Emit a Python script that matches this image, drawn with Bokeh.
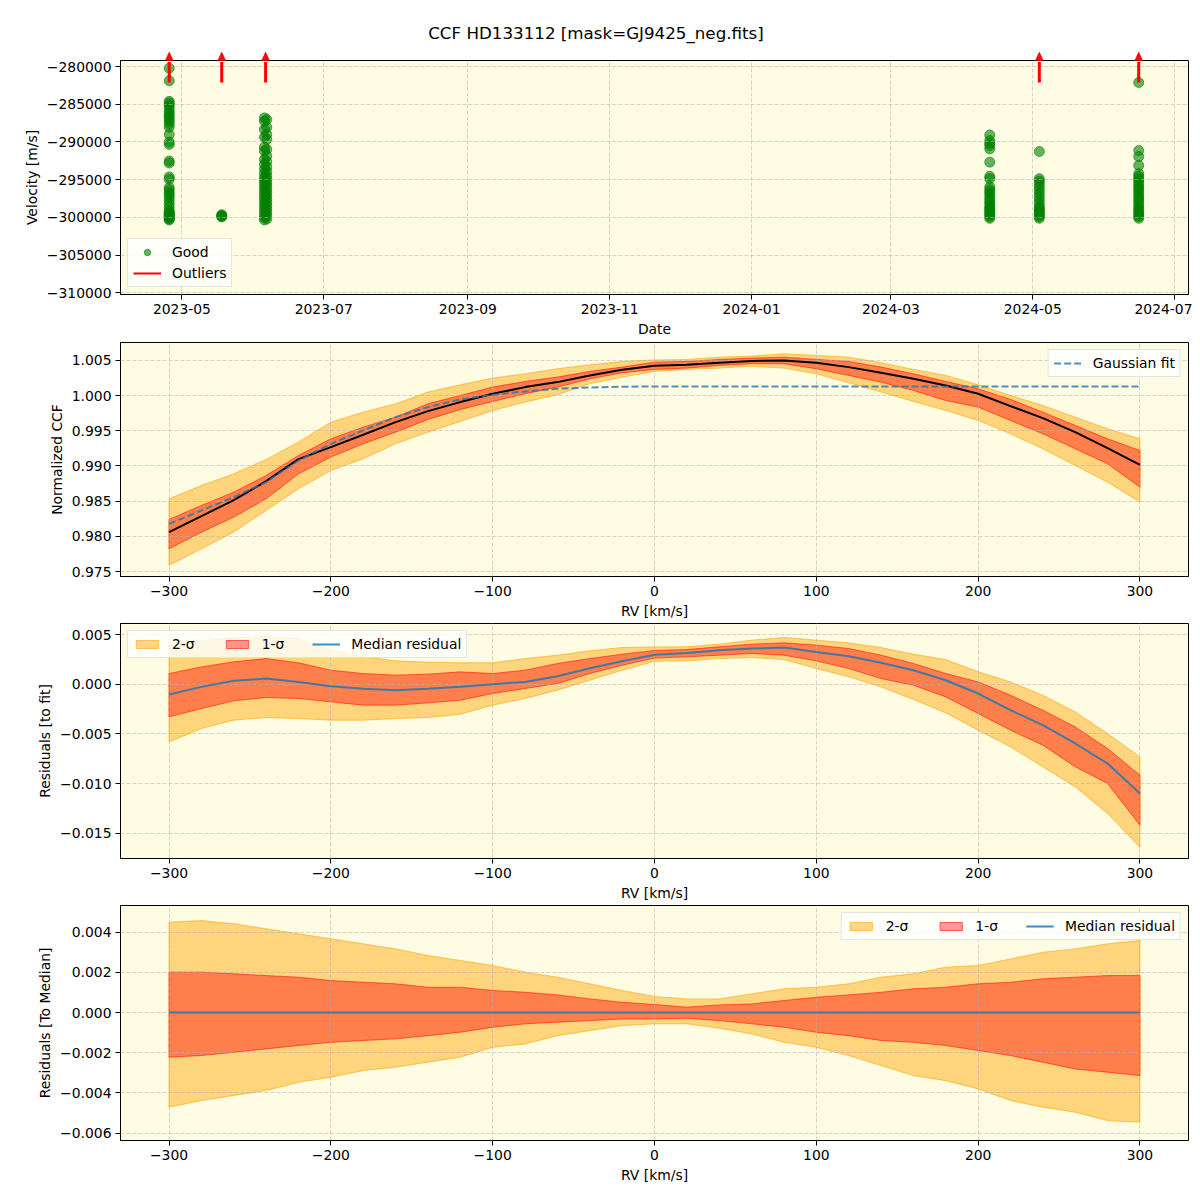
import numpy as np
import pandas as pd
from bokeh.plotting import figure
from bokeh.models import (ColumnDataSource, Range1d, FixedTicker, Legend, LegendItem,
                          Arrow, NormalHead, Div)
from bokeh.layouts import column
from bokeh.embed import file_html
from bokeh.resources import INLINE

FONT = "DejaVu Sans"
BG = "#fefce3"
FS = "13.9px"

# ---------------- data: top panel (velocities per observing night) ----------------
c1_date = "2023-04-25 13:00"
c1_vel = [-280220, -281890, -284620, -284840, -285140, -285490, -285930, -286290, -286590,
          -286900, -287250, -287600, -288040, -289010, -290020, -290330, -292530, -292790,
          -294640, -294950, -296040, -296350, -296700, -297010, -297360, -297800, -298240,
          -298680, -299120, -299340, -299470, -299560, -299650, -299780, -299910, -300000,
          -300090, -300220, -300350]
c2_date = "2023-05-18 03:00"
c2_vel = [-299650, -299750, -299850, -299950]
c3_date_a = "2023-06-05 12:00"
c3_date_b = "2023-06-06 12:00"
c3_vel = [-286810, -287030, -287250, -288040, -288350, -289010, -289360, -289670, -290680,
          -290990, -291210, -291870, -292310, -292620, -292970, -293320, -293630, -293930,
          -294200, -294510, -294730, -294950, -295160, -295380, -295600, -295820, -296040,
          -296260, -296480, -296700, -296920, -297140, -297360, -297580, -297800, -298020,
          -298240, -298460, -298680, -298900, -299120, -299340, -299560, -299780, -300000,
          -300220, -300350]
c4_date = "2024-04-12 12:00"
c4_vel = [-289080, -289820, -290180, -290480, -290920, -292680, -294560, -294870, -295960,
          -296320, -296620, -296930, -297280, -297630, -297940, -298250, -298600, -298820,
          -299040, -299250, -299470, -299690, -299910, -300130]
c5_date = "2024-05-03 20:00"
c5_vel = [-291270, -294870, -295180, -295530, -295960, -296400, -296840, -297280, -297720,
          -298160, -298600, -298820, -299040, -299250, -299470, -299690, -299910, -300130]
c6_date = "2024-06-15 14:00"
c6_vel = [-282110, -291140, -291930, -293110, -294210, -294560, -294870, -295180, -295530,
          -295880, -296180, -296490, -296840, -297190, -297500, -297810, -298160, -298510,
          -298820, -299120, -299390, -299650, -299910, -300130]
outlier_dates = ["2023-04-25 13:00", "2023-05-18 03:00", "2023-06-06 00:00",
                 "2024-05-03 20:00", "2024-06-15 14:00"]

date_ticks = ["2023-05-01", "2023-07-01", "2023-09-01", "2023-11-01", "2024-01-01",
              "2024-03-01", "2024-05-01", "2024-07-01"]
date_tick_labels = ["2023-05", "2023-07", "2023-09", "2023-11", "2024-01", "2024-03",
                    "2024-05", "2024-07"]
vel_ticks = [-280000, -285000, -290000, -295000, -300000, -305000, -310000]
vel_tick_labels = ["\u2212280000", "\u2212285000", "\u2212290000", "\u2212295000",
                   "\u2212300000", "\u2212305000", "\u2212310000"]

# ---------------- data: CCF panels ----------------
rv = [-300, -280, -260, -240, -220, -200, -180, -160, -140, -120, -100, -80, -60, -40, -20,
      0, 20, 40, 60, 80, 100, 120, 140, 160, 180, 200, 220, 240, 260, 280, 300]

ccf_median = [0.98059, 0.98287, 0.98514, 0.98784, 0.99097, 0.99268, 0.99443, 0.99623, 0.99780,
              0.99908, 1.00026, 1.00121, 1.00192, 1.00287, 1.00367, 1.00424, 1.00438, 1.00467,
              1.00491, 1.00500, 1.00467, 1.00405, 1.00325, 1.00239, 1.00145, 1.00026, 0.99851,
              0.99680, 0.99481, 0.99254, 0.99017]
ccf_2s_up = [0.98533, 0.98723, 0.98889, 0.99093, 0.99339, 0.99623, 0.99765, 0.99884, 1.00050,
             1.00154, 1.00249, 1.00310, 1.00382, 1.00438, 1.00486, 1.00507, 1.00514, 1.00547,
             1.00562, 1.00595, 1.00571, 1.00547, 1.00467, 1.00372, 1.00287, 1.00154, 1.00002,
             0.99860, 0.99694, 0.99529, 0.99386]
ccf_1s_up = [0.98240, 0.98439, 0.98628, 0.98865, 0.99149, 0.99386, 0.99552, 0.99694, 0.99884,
             1.00002, 1.00121, 1.00201, 1.00263, 1.00344, 1.00405, 1.00476, 1.00486, 1.00514,
             1.00533, 1.00547, 1.00514, 1.00486, 1.00405, 1.00310, 1.00201, 1.00097, 0.99946,
             0.99765, 0.99576, 0.99386, 0.99220]
ccf_1s_lo = [0.97822, 0.98059, 0.98273, 0.98533, 0.98889, 0.99126, 0.99315, 0.99481, 0.99661,
             0.99803, 0.99917, 1.00026, 1.00121, 1.00239, 1.00325, 1.00372, 1.00391, 1.00429,
             1.00453, 1.00453, 1.00382, 1.00287, 1.00192, 1.00073, 0.99931, 0.99837, 0.99647,
             0.99457, 0.99244, 0.99031, 0.98699]
ccf_2s_lo = [0.97586, 0.97822, 0.98059, 0.98367, 0.98675, 0.98936, 0.99102, 0.99315, 0.99481,
             0.99633, 0.99789, 0.99908, 1.00012, 1.00168, 1.00263, 1.00344, 1.00372, 1.00391,
             1.00419, 1.00391, 1.00310, 1.00182, 1.00050, 0.99917, 0.99789, 0.99647, 0.99457,
             0.99244, 0.99007, 0.98770, 0.98486]
gauss_fit = [0.98178, 0.98367, 0.98557, 0.98770, 0.99078, 0.99315, 0.99505, 0.99694, 0.99837,
             0.99946, 1.00012, 1.00059, 1.00097, 1.00116, 1.00126, 1.00130, 1.00130, 1.00130,
             1.00130, 1.00130, 1.00130, 1.00130, 1.00130, 1.00130, 1.00130, 1.00130, 1.00130,
             1.00130, 1.00130, 1.00130, 1.00130]

res_median = [-0.00104, -0.00027, 0.00034, 0.00057, 0.00023, -0.00020, -0.00047, -0.00060,
              -0.00047, -0.00027, 0.00000, 0.00023, 0.00080, 0.00160, 0.00230, 0.00297,
              0.00315, 0.00342, 0.00359, 0.00369, 0.00325, 0.00282, 0.00215, 0.00141, 0.00040,
              -0.00094, -0.00262, -0.00413, -0.00597, -0.00799, -0.01101]
res_2s_up = [0.00389, 0.00436, 0.00470, 0.00483, 0.00460, 0.00342, 0.00275, 0.00235, 0.00221,
             0.00215, 0.00215, 0.00258, 0.00292, 0.00336, 0.00369, 0.00375, 0.00376, 0.00403,
             0.00443, 0.00470, 0.00443, 0.00416, 0.00369, 0.00302, 0.00248, 0.00124, 0.00023,
             -0.00111, -0.00279, -0.00497, -0.00732]
res_1s_up = [0.00107, 0.00174, 0.00225, 0.00258, 0.00215, 0.00141, 0.00107, 0.00091, 0.00101,
             0.00124, 0.00107, 0.00141, 0.00208, 0.00258, 0.00302, 0.00339, 0.00349, 0.00376,
             0.00403, 0.00416, 0.00393, 0.00359, 0.00292, 0.00208, 0.00107, 0.00023, -0.00111,
             -0.00262, -0.00430, -0.00648, -0.00916]
res_1s_lo = [-0.00329, -0.00245, -0.00168, -0.00134, -0.00144, -0.00178, -0.00211, -0.00211,
             -0.00188, -0.00161, -0.00094, -0.00044, 0.00007, 0.00107, 0.00191, 0.00263,
             0.00275, 0.00292, 0.00309, 0.00292, 0.00235, 0.00158, 0.00057, -0.00010, -0.00128,
             -0.00295, -0.00463, -0.00614, -0.00832, -0.01000, -0.01420]
res_2s_lo = [-0.00581, -0.00446, -0.00362, -0.00336, -0.00346, -0.00362, -0.00362, -0.00346,
             -0.00336, -0.00302, -0.00211, -0.00144, -0.00060, 0.00040, 0.00141, 0.00230,
             0.00235, 0.00258, 0.00268, 0.00248, 0.00158, 0.00074, -0.00027, -0.00154, -0.00289,
             -0.00463, -0.00631, -0.00832, -0.01034, -0.01302, -0.01644]

med_line = [0.0] * 31
med_2s_up = [0.00450, 0.00458, 0.00442, 0.00417, 0.00392, 0.00367, 0.00342, 0.00317, 0.00284,
             0.00259, 0.00234, 0.00201, 0.00176, 0.00143, 0.00110, 0.00080, 0.00068, 0.00068,
             0.00093, 0.00118, 0.00126, 0.00143, 0.00176, 0.00193, 0.00226, 0.00234, 0.00267,
             0.00300, 0.00317, 0.00342, 0.00359]
med_1s_up = [0.00201, 0.00201, 0.00193, 0.00184, 0.00176, 0.00159, 0.00151, 0.00143, 0.00126,
             0.00126, 0.00110, 0.00101, 0.00088, 0.00068, 0.00051, 0.00040, 0.00027, 0.00038,
             0.00043, 0.00060, 0.00076, 0.00088, 0.00101, 0.00118, 0.00126, 0.00143, 0.00151,
             0.00168, 0.00176, 0.00184, 0.00184]
med_1s_lo = [-0.00222, -0.00214, -0.00198, -0.00181, -0.00164, -0.00148, -0.00139, -0.00131,
             -0.00115, -0.00098, -0.00073, -0.00056, -0.00048, -0.00040, -0.00032, -0.00032,
             -0.00028, -0.00040, -0.00056, -0.00073, -0.00098, -0.00115, -0.00139, -0.00148,
             -0.00164, -0.00189, -0.00214, -0.00247, -0.00281, -0.00297, -0.00314]
med_2s_lo = [-0.00471, -0.00438, -0.00413, -0.00388, -0.00347, -0.00322, -0.00289, -0.00272,
             -0.00247, -0.00222, -0.00173, -0.00156, -0.00115, -0.00090, -0.00065, -0.00056,
             -0.00056, -0.00078, -0.00106, -0.00148, -0.00173, -0.00214, -0.00264, -0.00314,
             -0.00339, -0.00380, -0.00438, -0.00471, -0.00496, -0.00538, -0.00546]

rv_ticks = [-300, -200, -100, 0, 100, 200, 300]
rv_tick_labels = ["\u2212300", "\u2212200", "\u2212100", "0", "100", "200", "300"]
ccf_ticks = [0.975, 0.980, 0.985, 0.990, 0.995, 1.000, 1.005]
ccf_tick_labels = ["0.975", "0.980", "0.985", "0.990", "0.995", "1.000", "1.005"]
res_ticks = [0.005, 0.0, -0.005, -0.010, -0.015]
res_tick_labels = ["0.005", "0.000", "\u22120.005", "\u22120.010", "\u22120.015"]
med_ticks = [0.004, 0.002, 0.0, -0.002, -0.004, -0.006]
med_tick_labels = ["0.004", "0.002", "0.000", "\u22120.002", "\u22120.004", "\u22120.006"]

TITLE = "CCF HD133112 [mask=GJ9425_neg.fits]"


def ms(d):
    return pd.Timestamp(d).value / 1e6


def style(p, xlabel, ylabel):
    p.background_fill_color = BG
    p.border_fill_color = "white"
    p.outline_line_color = "black"
    p.outline_line_width = 1
    p.outline_line_alpha = 1
    p.xaxis.axis_label = xlabel
    p.yaxis.axis_label = ylabel
    for ax in p.xaxis + p.yaxis:
        ax.axis_line_color = "black"
        ax.major_tick_line_color = "black"
        ax.major_tick_out = 5
        ax.major_tick_in = 0
        ax.minor_tick_line_color = None
        ax.major_label_text_font = FONT
        ax.major_label_text_font_size = FS
        ax.major_label_text_color = "black"
        ax.axis_label_text_font = FONT
        ax.axis_label_text_font_size = FS
        ax.axis_label_text_font_style = "normal"
        ax.axis_label_text_color = "black"
        ax.major_label_standoff = 4
        ax.axis_label_standoff = 4
    for g in (p.xgrid, p.ygrid):
        g.grid_line_color = "#b0b0b0"
        g.grid_line_alpha = 0.55
        g.grid_line_dash = "4 2"
        g.grid_line_width = 1
        g.level = "guide"


def set_ticks(axis, ticks, labels):
    axis.ticker = FixedTicker(ticks=list(ticks))
    axis.major_label_overrides = {t: l for t, l in zip(ticks, labels)}


def style_legend(lg, gh=10):
    lg.label_text_font = FONT
    lg.label_text_font_size = FS
    lg.label_text_color = "black"
    lg.border_line_color = "#cccccc"
    lg.border_line_width = 1
    lg.background_fill_color = "white"
    lg.background_fill_alpha = 0.8
    lg.glyph_width = 28
    lg.glyph_height = gh
    lg.label_height = 16
    lg.label_standoff = 11
    lg.padding = 5
    lg.margin = 7


W = 1192
LEFT = 120
FRAME_W = W - LEFT - 4
FRAME_H = 234

# ---------------- panel 1 ----------------
x_start = ms("2023-04-04 14:00")
x_end = ms("2024-07-07 00:00")
y0, y1 = -310230, -279200
p1 = figure(width=W, height=288, x_axis_type="datetime", output_backend="svg",
            toolbar_location=None, x_range=Range1d(x_start, x_end), y_range=Range1d(y0, y1),
            min_border_left=LEFT, min_border_right=4, min_border_top=8, min_border_bottom=46)
style(p1, "Date", "Velocity [m/s]")
set_ticks(p1.xaxis[0], [ms(d) for d in date_ticks], date_tick_labels)
set_ticks(p1.yaxis[0], vel_ticks, vel_tick_labels)

c3_dates = [c3_date_a if i % 2 == 0 else c3_date_b for i in range(len(c3_vel))]
all_dates = ([c1_date] * len(c1_vel) + [c2_date] * len(c2_vel) + c3_dates +
             [c4_date] * len(c4_vel) + [c5_date] * len(c5_vel) + [c6_date] * len(c6_vel))
all_vel = c1_vel + c2_vel + c3_vel + c4_vel + c5_vel + c6_vel
src = ColumnDataSource(dict(x=[ms(d) for d in all_dates], y=all_vel))
sc = p1.scatter("x", "y", source=src, size=10, fill_color="green", line_color="green",
                fill_alpha=0.6, line_alpha=0.6)
dummy = p1.line(x=[float("nan")], y=[float("nan")], line_color="red", line_width=2)

# outlier arrows: shaft inside the axes; the head above the top of the axes is built
# from short vertical strokes, each carrying an (invisible) head so that it is drawn
# outside the plot frame
ypp = (y1 - y0) / FRAME_H          # data units per pixel (vertical)
xpp = (x_end - x_start) / FRAME_W  # data units per pixel (horizontal)
xs_out = [ms(d) for d in outlier_dates]
tail_y = y1 - 22 * ypp
base_y = y1 - 1.5 * ypp
shaft_src = ColumnDataSource(dict(xs=xs_out, ys=[tail_y] * len(xs_out),
                                  ye=[base_y] * len(xs_out)))
p1.add_layout(Arrow(end=None, x_start="xs", y_start="ys", x_end="xs", y_end="ye",
                    source=shaft_src, line_color="red", line_width=3))
sx, sy0, sy1 = [], [], []
HEAD_H, HEAD_HALF = 10.0, 4.6
for xc in xs_out:
    for dx in np.arange(-4.5, 4.51, 0.5):
        h = max(0.6, HEAD_H * (1 - abs(dx) / HEAD_HALF))
        sx.append(xc + dx * xpp)
        sy0.append(base_y)
        sy1.append(base_y + h * ypp)
head_src = ColumnDataSource(dict(x=sx, y0=sy0, y1=sy1))
p1.add_layout(Arrow(end=NormalHead(size=14, fill_alpha=0, line_alpha=0),
                    x_start="x", y_start="y0", x_end="x", y_end="y1",
                    source=head_src, line_color="red", line_width=1))

lg1 = Legend(items=[LegendItem(label="Good", renderers=[sc]),
                    LegendItem(label="Outliers", renderers=[dummy])],
             location="bottom_left")
style_legend(lg1, gh=16)
lg1.spacing = 5
p1.add_layout(lg1)


def band(p, up, lo, color, alpha):
    xs = list(rv) + list(rv)[::-1]
    ys = list(up) + list(lo)[::-1]
    return p.patch(xs, ys, fill_color=color, fill_alpha=alpha, line_color=color,
                   line_alpha=min(1.0, alpha + 0.15), line_width=1)


def rv_fig(height, top, bottom, yr):
    p = figure(width=W, height=height, output_backend="svg", toolbar_location=None,
               x_range=Range1d(-330, 330), y_range=Range1d(*yr),
               min_border_left=LEFT, min_border_right=4, min_border_top=top,
               min_border_bottom=bottom)
    set_ticks(p.xaxis[0], rv_ticks, rv_tick_labels)
    return p


# ---------------- panel 2 ----------------
p2 = rv_fig(281, 2, 44, (0.97429, 1.00755))
style(p2, "RV [km/s]", "Normalized CCF")
set_ticks(p2.yaxis[0], ccf_ticks, ccf_tick_labels)
band(p2, ccf_2s_up, ccf_2s_lo, "orange", 0.45)
band(p2, ccf_1s_up, ccf_1s_lo, "red", 0.4)
ml = p2.line(rv, ccf_median, line_color="black", line_width=2)
ml.level = "annotation"
gf = p2.line(rv, gauss_fit, line_color="#1f77b4", line_alpha=0.8, line_width=2,
             line_dash="7 3")
gf.level = "annotation"
lg2 = Legend(items=[LegendItem(label="Gaussian fit", renderers=[gf])], location="top_right")
style_legend(lg2, gh=16)
p2.add_layout(lg2)

# ---------------- panel 3 ----------------
p3 = rv_fig(282, 2, 45, (-0.01755, 0.00611))
style(p3, "RV [km/s]", "Residuals [to fit]")
set_ticks(p3.yaxis[0], res_ticks, res_tick_labels)
b2 = band(p3, res_2s_up, res_2s_lo, "orange", 0.45)
b1 = band(p3, res_1s_up, res_1s_lo, "red", 0.4)
rl = p3.line(rv, res_median, line_color="#1f77b4", line_alpha=0.85, line_width=2)
rl.level = "annotation"
lg3 = Legend(items=[LegendItem(label="2-\u03c3", renderers=[b2]),
                    LegendItem(label="1-\u03c3", renderers=[b1]),
                    LegendItem(label="Median residual", renderers=[rl])],
             location="top_left", orientation="horizontal")
style_legend(lg3)
lg3.spacing = 28
p3.add_layout(lg3)

# ---------------- panel 4 ----------------
p4 = rv_fig(282, 2, 45, (-0.00637, 0.00533))
style(p4, "RV [km/s]", "Residuals [To Median]")
set_ticks(p4.yaxis[0], med_ticks, med_tick_labels)
d2 = band(p4, med_2s_up, med_2s_lo, "orange", 0.45)
d1 = band(p4, med_1s_up, med_1s_lo, "red", 0.4)
dl = p4.line(rv, med_line, line_color="#1f77b4", line_alpha=0.85, line_width=2)
dl.level = "annotation"
lg4 = Legend(items=[LegendItem(label="2-\u03c3", renderers=[d2]),
                    LegendItem(label="1-\u03c3", renderers=[d1]),
                    LegendItem(label="Median residual", renderers=[dl])],
             location="top_right", orientation="horizontal")
style_legend(lg4)
lg4.spacing = 28
p4.add_layout(lg4)

title = Div(text=TITLE, width=W, height=52, margin=0,
            styles={"text-align": "center", "font-family": FONT, "font-size": "16.7px",
                    "padding-top": "22px", "color": "black", "width": f"{W}px",
                    "box-sizing": "border-box"})

layout = column(title, p1, p2, p3, p4, spacing=0)
open("out.html", "w").write(file_html(layout, INLINE))
